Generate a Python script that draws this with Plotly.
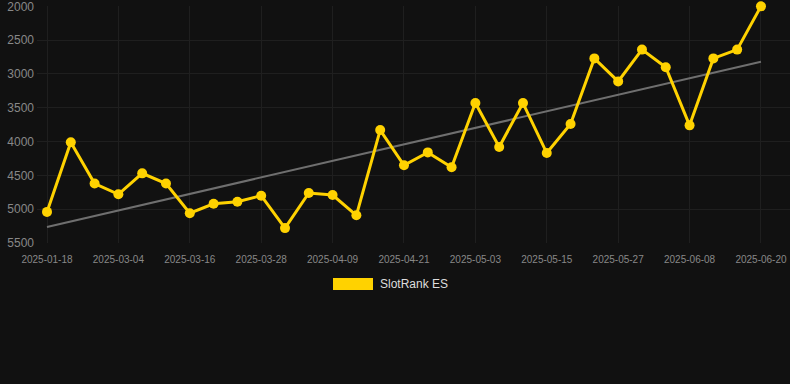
import numpy as np
import plotly.graph_objects as go

dates = ["2025-01-18", "2025-02-24", "2025-02-28", "2025-03-04", "2025-03-08", "2025-03-12",
         "2025-03-16", "2025-03-20", "2025-03-24", "2025-03-28", "2025-04-01", "2025-04-05",
         "2025-04-09", "2025-04-13", "2025-04-17", "2025-04-21", "2025-04-25", "2025-04-29",
         "2025-05-03", "2025-05-07", "2025-05-11", "2025-05-15", "2025-05-19", "2025-05-23",
         "2025-05-27", "2025-05-31", "2025-06-04", "2025-06-08", "2025-06-12", "2025-06-16",
         "2025-06-20"]
rank = [5040, 4010, 4620, 4780, 4470, 4620, 5060, 4920, 4890, 4800, 5280, 4760, 4790, 5090,
        3830, 4350, 4160, 4380, 3430, 4080, 3430, 4170, 3740, 2770, 3110, 2640, 2900, 3760,
        2770, 2640, 2000]
y_ticks = [2000, 2500, 3000, 3500, 4000, 4500, 5000, 5500]
series_name = "SlotRank ES"

idx = np.arange(len(rank))
slope, intercept = np.polyfit(idx, rank, 1)
trend = slope * idx + intercept

YELLOW = "#FFD200"
BG = "#111111"
GRID = "#1f1f1f"

fig = go.Figure()
fig.add_trace(go.Scatter(x=idx, y=trend, mode="lines",
                         line=dict(color="#6f6f6f", width=2), showlegend=False,
                         hoverinfo="skip"))
fig.add_trace(go.Scatter(x=idx, y=rank, mode="lines+markers", name=series_name,
                         line=dict(color=YELLOW, width=3),
                         marker=dict(color=YELLOW, size=10), cliponaxis=False,
                         showlegend=False))

fig.update_layout(
    width=790, height=384,
    paper_bgcolor=BG, plot_bgcolor=BG,
    margin=dict(l=37, r=0, t=6, b=141),
    showlegend=False,
    font=dict(family="Liberation Sans, Arial, sans-serif"),
)
fig.update_xaxes(
    range=[-0.42, 31.22],
    tickmode="array", tickvals=idx[::3], ticktext=[dates[i] for i in idx[::3]],
    showgrid=True, gridcolor=GRID, gridwidth=1, zeroline=False,
    showline=False, ticks="", tickfont=dict(size=10, color="#888888"),
    ticklabelstandoff=9, ticklabeloverflow="allow",
)
fig.update_yaxes(
    range=[5500, 1995], tickmode="array", tickvals=y_ticks,
    showgrid=True, gridcolor=GRID, gridwidth=1, zeroline=False,
    showline=False, ticks="", tickfont=dict(size=12, color="#888888"),
    ticklabelstandoff=2, ticklabeloverflow="allow",
)

# legend (manual)
fig.add_shape(type="rect", xref="paper", yref="paper",
              x0=(333 - 37) / 753, x1=(373 - 37) / 753,
              y0=(243 - 290) / 237, y1=(243 - 278) / 237,
              fillcolor=YELLOW, line=dict(width=0))
fig.add_annotation(xref="paper", yref="paper", x=(378 - 37) / 753, y=(243 - 284) / 237,
                   text=series_name, showarrow=False, xanchor="left", yanchor="middle",
                   font=dict(size=12, color="#dddddd"))

fig.write_html("out.html", config={"displayModeBar": False},
               post_script="document.body.style.margin='0';document.body.style.background='#111111';")
